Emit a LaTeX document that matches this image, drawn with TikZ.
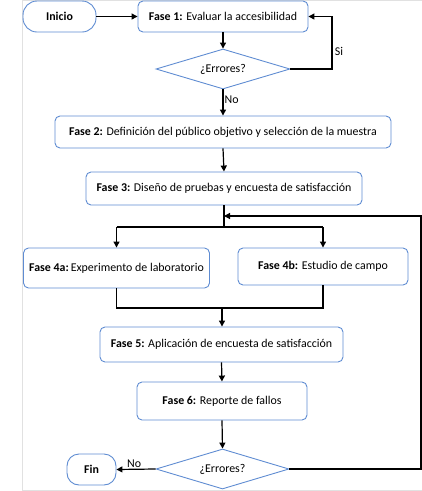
\documentclass[tikz,border=0pt]{standalone}
\usepackage{fontspec}
\setmainfont{Carlito}
\usetikzlibrary{shapes.geometric,arrows.meta}
\definecolor{boxblue}{RGB}{95,140,210}
\definecolor{framegray}{RGB}{225,225,225}
\tikzset{
  box/.style={draw=boxblue, line width=0.9pt, rounded corners=5pt, fill=white, inner sep=1pt, align=center, font=\fontsize{11.9}{14}\selectfont},
  term/.style={box, rounded corners=14pt},
  dec/.style={draw=boxblue, line width=0.9pt, diamond, aspect=3.3, inner sep=0pt, font=\fontsize{11.9}{14}\selectfont},
  arr/.style={draw=black, line width=1.2pt, -{Triangle[length=6pt,width=6pt]}},
  ln/.style={draw=black, line width=1.2pt},
  lbl/.style={font=\fontsize{11.9}{14}\selectfont, inner sep=1pt}
}
\begin{document}
\begin{tikzpicture}[x=1pt,y=-1pt]
\useasboundingbox (0,0) rectangle (422,491);
\draw[framegray, line width=1pt] (422,0.5) -- (22.5,0.5) -- (22.5,490) -- (422,490);

\node[term, minimum width=73pt, minimum height=31pt] (inicio) at (59.5,16.5) {\textbf{Inicio}};
\node[box, minimum width=170pt, minimum height=31pt] (f1) at (223,16.5) {\textbf{Fase 1:} Evaluar la accesibilidad};
\node[dec, minimum width=134pt, minimum height=40pt] (d1) at (223,69) {¿Errores?};
\node[box, minimum width=336pt, minimum height=32pt] (f2) at (223,132) {\textbf{Fase 2:} Definición del público objetivo y selección de la muestra};
\node[box, minimum width=276pt, minimum height=33pt] (f3) at (224,188.5) {\textbf{Fase 3:} Diseño de pruebas y encuesta de satisfacción};
\node[box, minimum width=186pt, minimum height=40pt] (f4a) at (116.5,268) {\textbf{Fase 4a:}\,Experimento de laboratorio};
\node[box, minimum width=170pt, minimum height=37pt] (f4b) at (323,266.5) {\textbf{Fase 4b:} Estudio de campo};
\node[box, minimum width=243pt, minimum height=35pt] (f5) at (221.5,344.5) {\textbf{Fase 5:} Aplicación de encuesta de satisfacción};
\node[box, minimum width=170pt, minimum height=38pt] (f6) at (222,401) {\textbf{Fase 6:} Reporte de fallos};
\node[dec, minimum width=133pt, minimum height=40pt] (d2) at (222.5,469) {¿Errores?};
\node[term, minimum width=49pt, minimum height=31pt, rounded corners=12pt] (fin) at (91.5,469.5) {\textbf{Fin}};

\coordinate (loopx) at (332,0);
\coordinate (branch) at (224,227);
\coordinate (merge) at (222,308);
\coordinate (fb) at (224,216);
\coordinate (rightx) at (421,0);

\draw[arr] (inicio.east) -- (f1.west);
\draw[arr] (f1.south) -- (d1.north);
\draw[arr] (d1.east) -- (d1.east -| loopx) |- (f1.east);
\node[lbl] at (339,51) {Si};
\draw[arr] (d1.south) -- node[lbl, right, pos=0.4] {No} (f2.north);
\draw[arr] (f2.south) -- (f3.north);
\draw[ln] (f3.south) -- (branch);
\draw[ln] (f4a.north |- branch) -- (f4b.north |- branch);
\draw[arr] (f4a.north |- branch) -- (f4a.north);
\draw[arr] (f4b.north |- branch) -- (f4b.north);
\draw[ln] (f4a.south) -- (f4a.south |- merge) -- (f4b.south |- merge) -- (f4b.south);
\draw[arr] (merge) -- (merge |- f5.north);
\draw[arr] (f5.south) -- (f6.north);
\draw[arr] (f6.south) -- (d2.north);
\draw[arr] (d2.west) -- node[lbl, above, pos=0.55] {No} (fin.east);
\draw[arr] (d2.east) -- (d2.east -| rightx) -- (rightx |- fb) -- (fb);
\end{tikzpicture}
\end{document}
